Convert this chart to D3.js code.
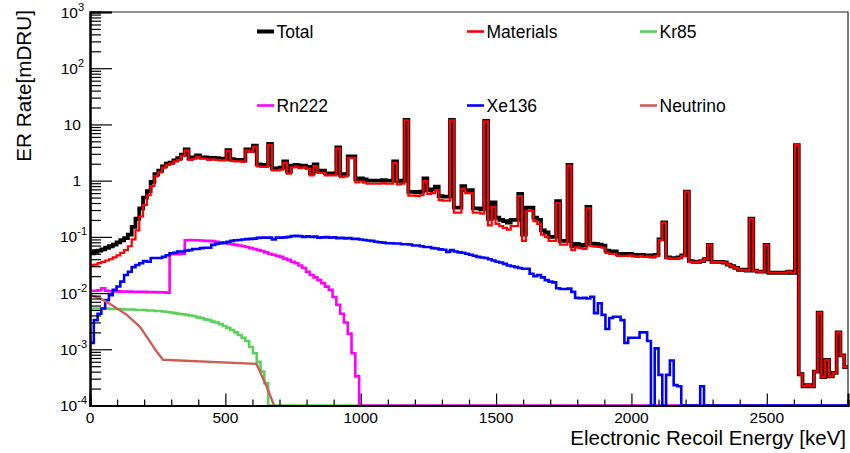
<!DOCTYPE html>
<html>
<head>
<meta charset="utf-8">
<script src="https://cdn.jsdelivr.net/npm/d3@7"></script>
<style>
  body { margin: 0; background: #fff; }
  svg { display: block; font-family: "Liberation Sans", Arial, Helvetica, sans-serif; }
</style>
</head>
<body>
<div id="chart"></div>
<script>
/* DATA */
// histograms: 14 keV bins starting at 0 keV, rate in mDRU
const binWidth = 14;
const nBins = 200;

const total = [
  0.051, 0.054, 0.057, 0.06, 0.064, 0.068, 0.073, 0.08, 0.087, 0.095,
  0.11, 0.15, 0.21, 0.32, 0.5, 0.65, 0.95, 1.3, 1.5, 1.8,
  2.0, 2.1, 2.3, 2.5, 2.9, 3.6, 2.5, 2.6, 2.8, 2.6,
  2.6, 2.5, 2.55, 2.5, 2.45, 2.45, 3.5, 2.4, 2.35, 2.35,
  2.3, 3.6, 3.4, 4.2, 1.95, 1.9, 1.9, 4.5, 1.65, 1.65,
  1.7, 2.2, 1.45, 1.85, 1.9, 1.8, 1.85, 1.75, 1.35, 1.95,
  1.5, 1.5, 1.35, 1.35, 1.35, 3.9, 1.26, 1.3, 2.7, 2.7,
  1.05, 1.1, 1.05, 1.0, 1.0, 1.0, 1.0, 1.02, 1.0, 1.0,
  2.2, 0.98, 1.0, 12, 0.63, 0.63, 0.62, 0.64, 1.1, 0.68,
  0.7, 0.78, 0.53, 0.52, 0.52, 12, 0.33, 0.33, 0.8, 0.68,
  0.68, 0.32, 0.32, 0.31, 11.5, 0.21, 0.41, 0.22, 0.2, 0.19,
  0.18, 0.2, 0.2, 0.58, 0.11, 0.33, 0.33, 0.22, 0.2, 0.13,
  0.12, 0.1, 0.1, 0.43, 0.085, 0.085, 1.9, 0.068, 0.075, 0.072,
  0.07, 0.34, 0.076, 0.075, 0.073, 0.07, 0.057, 0.055, 0.055, 0.05,
  0.05, 0.049, 0.05, 0.048, 0.047, 0.048, 0.046, 0.047, 0.045, 0.048,
  0.09, 0.18, 0.043, 0.042, 0.042, 0.043, 0.047, 0.64, 0.037, 0.036,
  0.036, 0.037, 0.04, 0.072, 0.036, 0.036, 0.036, 0.035, 0.032, 0.03,
  0.028, 0.026, 0.026, 0.025, 0.21, 0.025, 0.024, 0.024, 0.072, 0.023,
  0.023, 0.023, 0.023, 0.023, 0.024, 0.023, 4.3, 3.6e-4, 2.2e-4, 2.3e-4,
  2.2e-4, 4e-4, 4.5e-3, 3.2e-4, 6.5e-4, 3.3e-4, 3.8e-4, 2e-3, 7.8e-4, 4.8e-4
];

const materials = [
  0.031, 0.032, 0.034, 0.036, 0.038, 0.04, 0.043, 0.047, 0.052, 0.058,
  0.068, 0.09, 0.13, 0.23, 0.37, 0.55, 0.8, 1.2, 1.4, 1.7,
  1.9, 2.0, 2.2, 2.35, 2.75, 3.45, 2.35, 2.45, 2.65, 2.45,
  2.45, 2.35, 2.4, 2.35, 2.3, 2.3, 3.35, 2.25, 2.2, 2.2,
  2.15, 3.45, 3.25, 4.05, 1.8, 1.75, 1.75, 4.35, 1.52, 1.52,
  1.57, 2.05, 1.33, 1.72, 1.77, 1.67, 1.72, 1.62, 1.24, 1.82,
  1.38, 1.38, 1.24, 1.24, 1.24, 3.75, 1.15, 1.19, 2.55, 2.55,
  0.93, 0.97, 0.92, 0.88, 0.88, 0.88, 0.88, 0.9, 0.88, 0.88,
  2.05, 0.86, 0.88, 11.8, 0.54, 0.54, 0.53, 0.55, 0.98, 0.58,
  0.6, 0.68, 0.45, 0.44, 0.44, 11.8, 0.27, 0.27, 0.72, 0.6,
  0.6, 0.27, 0.27, 0.26, 11.3, 0.16, 0.34, 0.17, 0.155, 0.145,
  0.135, 0.155, 0.155, 0.53, 0.085, 0.29, 0.29, 0.19, 0.17, 0.11,
  0.1, 0.085, 0.085, 0.4, 0.073, 0.073, 1.85, 0.058, 0.065, 0.063,
  0.061, 0.32, 0.068, 0.067, 0.066, 0.064, 0.052, 0.05, 0.05, 0.046,
  0.046, 0.046, 0.047, 0.045, 0.044, 0.046, 0.044, 0.045, 0.043, 0.046,
  0.088, 0.18, 0.042, 0.041, 0.041, 0.042, 0.046, 0.64, 0.036, 0.036,
  0.036, 0.037, 0.04, 0.072, 0.036, 0.036, 0.036, 0.035, 0.032, 0.03,
  0.028, 0.026, 0.026, 0.025, 0.21, 0.025, 0.024, 0.024, 0.072, 0.023,
  0.023, 0.023, 0.023, 0.023, 0.024, 0.023, 4.3, 3.6e-4, 2.2e-4, 2.3e-4,
  2.2e-4, 4e-4, 4.5e-3, 3.2e-4, 6.5e-4, 3.3e-4, 3.8e-4, 2e-3, 7.8e-4, 4.8e-4
];

const kr85 = [
  0.0053, 0.0053, 0.0053, 0.0053, 0.0053, 0.0052, 0.0052, 0.0052, 0.0052, 0.0051,
  0.0051, 0.0051, 0.005, 0.005, 0.005, 0.0049, 0.0049, 0.0048, 0.0048, 0.0047,
  0.0046, 0.0045, 0.0044, 0.0043, 0.0042, 0.0041, 0.004, 0.0039, 0.0037, 0.0036,
  0.0034, 0.0033, 0.0031, 0.003, 0.0028, 0.0026, 0.0024, 0.0022, 0.002, 0.0018,
  0.0016, 0.0014, 0.0011, 0.00085, 0.0006, 0.0004, 0.00025
];

const rn222 = [
  0.011, 0.011, 0.0112, 0.0122, 0.011, 0.0108, 0.0107, 0.0107, 0.0106, 0.0106,
  0.0106, 0.0105, 0.0105, 0.0105, 0.0105, 0.0104, 0.0104, 0.0104, 0.0103, 0.0103,
  0.0102, 0.049, 0.049, 0.049, 0.05, 0.087, 0.088, 0.087, 0.087, 0.086,
  0.085, 0.085, 0.084, 0.082, 0.08, 0.078, 0.076, 0.074, 0.072, 0.07,
  0.068, 0.066, 0.063, 0.061, 0.058, 0.056, 0.053, 0.05, 0.048, 0.046,
  0.044, 0.041, 0.039, 0.036, 0.034, 0.031, 0.028, 0.024, 0.021, 0.019,
  0.017, 0.015, 0.013, 0.0114, 0.0085, 0.0062, 0.0043, 0.003, 0.0019, 0.00085,
  0.00033
];

const xe136 = [
  0.0013, 0.0033, 0.0043, 0.0053, 0.0075, 0.0092, 0.0114, 0.0131, 0.016, 0.021,
  0.024, 0.029, 0.0315, 0.034, 0.037, 0.036, 0.042, 0.042, 0.042, 0.044,
  0.047, 0.051, 0.052, 0.055, 0.055, 0.057, 0.058, 0.061, 0.061, 0.063,
  0.064, 0.064, 0.072, 0.075, 0.077, 0.078, 0.082, 0.085, 0.087, 0.088,
  0.09, 0.091, 0.092, 0.093, 0.096, 0.097, 0.097, 0.097, 0.09, 0.097,
  0.097, 0.098, 0.1, 0.103, 0.104, 0.103, 0.1, 0.102, 0.1, 0.101,
  0.097, 0.098, 0.099, 0.097, 0.098, 0.095, 0.096, 0.094, 0.095, 0.092,
  0.092, 0.09, 0.088, 0.086, 0.085, 0.082, 0.08, 0.079, 0.077, 0.077,
  0.076, 0.076, 0.074, 0.074, 0.073, 0.07, 0.07, 0.068, 0.066, 0.066,
  0.063, 0.062, 0.06, 0.059, 0.054, 0.058, 0.055, 0.053, 0.052, 0.05,
  0.048, 0.046, 0.044, 0.043, 0.042, 0.04, 0.038, 0.036, 0.035, 0.033,
  0.031, 0.03, 0.029, 0.028, 0.027, 0.027, 0.022, 0.02, 0.021, 0.019,
  0.017, 0.016, 0.0155, 0.0122, 0.0118, 0.0118, 0.012, 0.0105, 0.0082, 0.0081,
  0.0082, 0.008, 0.0086, 0.0044, 0.0066, 0.0041, 0.0023, 0.0036, 0.0038, 0.0038,
  0.0033, 0.0013, 0.0016, 0.0016, 0.0016, 0.002, 0.002, 0.0014, 0, 0.00104,
  0.00035, 0, 0.00035, 0.00063, 0.00023, 0.00022, 0, 0, 0, 0,
  0, 0.00022
];

// neutrino curve (graph points, keV / mDRU)
const neutrinoEnergy = [0, 37, 86, 136, 185, 216, 246, 270, 615, 652, 680];
const neutrinoRate = [0.0092, 0.0081, 0.0059, 0.0041, 0.0025, 0.0015, 0.00091, 0.00065, 0.00055, 0.00022, 0.0001];

const xMajorTicks = [0, 500, 1000, 1500, 2000, 2500];
const yExponents = [-4, -3, -2, -1, 0, 1, 2, 3];

const legendNames = ["Total", "Materials", "Kr85", "Rn222", "Xe136", "Neutrino"];
const legendColors = ["#000000", "#ff0000", "#5ad15a", "#ff00ff", "#0000ff", "#cd5c55"];

/* CONSTANTS */
const width = 850,
  height = 453,
  margin = { top: 12, bottom: 47.5, left: 90, right: 2 };

const svg = d3.select("#chart")
  .append("svg")
  .attr("width", width)
  .attr("height", height);

svg.append("rect").attr("width", width).attr("height", height).attr("fill", "#fff");

/* SCALES */
const xScale = d3.scaleLinear()
  .domain([0, 2800])
  .range([margin.left, width - margin.right]);

const yScale = d3.scaleLog()
  .domain([1e-4, 1e3])
  .range([height - margin.bottom, margin.top]);

const floor = 1e-4;

svg.append("clipPath").attr("id", "plotclip")
  .append("rect")
  .attr("x", margin.left).attr("y", margin.top - 2)
  .attr("width", width - margin.left - margin.right)
  .attr("height", height - margin.top - margin.bottom + 2);

/* HISTOGRAMS */
const stepLine = d3.line()
  .x(d => xScale(d[0]))
  .y(d => yScale(Math.max(d[1], floor)))
  .curve(d3.curveStepAfter);

function histPoints(arr) {
  const pts = d3.range(nBins).map(i => [i * binWidth, arr[i] || 0]);
  pts.push([nBins * binWidth, arr[nBins - 1] || 0]);
  return pts;
}

const plot = svg.append("g").attr("clip-path", "url(#plotclip)");

const series = [
  { data: total, color: legendColors[0], w: 3.8 },
  { data: materials, color: legendColors[1], w: 2.2 },
  { data: kr85, color: legendColors[2], w: 2.6 },
  { data: rn222, color: legendColors[3], w: 2.6 },
  { data: xe136, color: legendColors[4], w: 2.6 }
];

plot.selectAll("path.hist")
  .data(series)
  .join("path")
  .attr("class", "hist")
  .attr("d", d => stepLine(histPoints(d.data)))
  .attr("fill", "none")
  .attr("stroke", d => d.color)
  .attr("stroke-width", d => d.w)
  .attr("stroke-linejoin", "miter");

const nuLine = d3.line()
  .x(d => xScale(d[0]))
  .y(d => yScale(Math.max(d[1], floor)));

plot.append("path")
  .attr("d", nuLine(neutrinoEnergy.map((e, i) => [e, neutrinoRate[i]])))
  .attr("fill", "none")
  .attr("stroke", legendColors[5])
  .attr("stroke-width", 2.4);

/* FRAME + AXES */
const x0 = margin.left, x1 = width - margin.right;
const y0 = height - margin.bottom, y1 = margin.top;

svg.append("path")
  .attr("d", `M${x0},${y1}H${x1}V${y0}`)
  .attr("fill", "none")
  .attr("stroke", "#222")
  .attr("stroke-width", 1.2);

// y ticks: major + minor, pointing inside
const yMinor = [];
yExponents.slice(0, -1).forEach(e => {
  for (let m = 2; m <= 9; m++) yMinor.push(m * Math.pow(10, e));
});

const yAxisGroup = svg.append("g")
  .attr("transform", `translate(${x0},0)`)
  .call(d3.axisLeft(yScale).tickValues(yExponents.map(e => Math.pow(10, e)))
    .tickSize(-22).tickFormat(""));
yAxisGroup.append("g")
  .call(d3.axisLeft(yScale).tickValues(yMinor).tickSize(-11).tickFormat(""));
yAxisGroup.selectAll(".domain").attr("stroke", "#000").attr("stroke-width", 2);
yAxisGroup.selectAll(".tick line").attr("stroke", "#000").attr("stroke-width", 1.2);

const xMinor = d3.range(0, 2801, 100).filter(v => v % 500 !== 0);
const xAxisGroup = svg.append("g")
  .attr("transform", `translate(0,${y0})`)
  .call(d3.axisBottom(xScale).tickValues(xMajorTicks).tickSize(-12).tickFormat(""));
xAxisGroup.append("g")
  .call(d3.axisBottom(xScale).tickValues(xMinor).tickSize(-6).tickFormat(""));
xAxisGroup.selectAll(".domain").attr("stroke", "#000").attr("stroke-width", 2);
xAxisGroup.selectAll(".tick line").attr("stroke", "#000").attr("stroke-width", 1.2);

// tick labels
svg.append("g")
  .selectAll("text")
  .data(xMajorTicks)
  .join("text")
  .attr("x", d => xScale(d))
  .attr("y", 422.5)
  .attr("text-anchor", "middle")
  .attr("font-size", 15.5)
  .attr("fill", "#000")
  .text(d => d);

const yLabels = svg.append("g")
  .selectAll("text")
  .data(yExponents)
  .join("text")
  .attr("x", d => d === 0 || d === 1 ? 81 : (d < 0 ? 87 : 84))
  .attr("y", d => yScale(Math.pow(10, d)) + 5.5)
  .attr("text-anchor", "end")
  .attr("font-size", 15.5)
  .attr("fill", "#000");

yLabels.each(function (d) {
  const t = d3.select(this);
  if (d === 0) { t.text("1"); return; }
  if (d === 1) { t.text("10"); return; }
  t.append("tspan").text("10");
  t.append("tspan").attr("dy", -7).attr("font-size", 11).text(d);
});

// axis titles
svg.append("text")
  .attr("transform", `translate(31,${y1 - 2}) rotate(-90)`)
  .attr("text-anchor", "end")
  .attr("font-size", 20.7)
  .attr("fill", "#000")
  .text("ER Rate[mDRU]");

svg.append("text")
  .attr("x", 846)
  .attr("y", 445)
  .attr("text-anchor", "end")
  .attr("font-size", 20.5)
  .attr("fill", "#000")
  .text("Electronic Recoil Energy [keV]");

/* LEGEND */
const legendX = [257, 467, 640];
const legendY = [31.5, 105.5];
const legend = svg.append("g")
  .selectAll("g")
  .data(legendNames)
  .join("g")
  .attr("transform", (d, i) => `translate(${legendX[i % 3]},${legendY[Math.floor(i / 3)]})`);

legend.append("line")
  .attr("x1", 0).attr("x2", 17)
  .attr("stroke", (d, i) => legendColors[i])
  .attr("stroke-width", (d, i) => i === 0 ? 4 : 2.6);

legend.append("text")
  .attr("x", 19.5)
  .attr("y", 6.3)
  .attr("font-size", 17.5)
  .attr("fill", "#000")
  .text(d => d);
</script>
</body>
</html>
